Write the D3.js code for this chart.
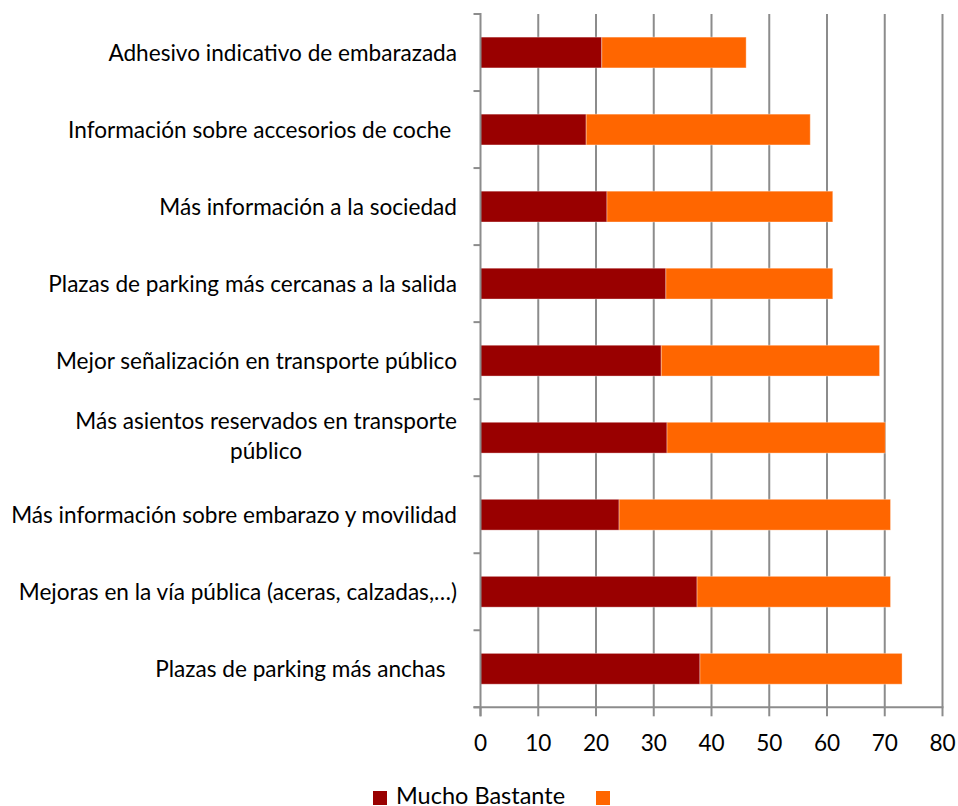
<!DOCTYPE html>
<html>
<head>
<meta charset="utf-8">
<script src="https://cdn.jsdelivr.net/npm/d3@7"></script>
<style>
  body { margin: 0; background: #fff; }
  text { font-family: Lato, "Open Sans", sans-serif; fill: #000; white-space: pre; }
</style>
</head>
<body>
<div id="chart"></div>
<script>
// Chart data
var categories = [
  "Adhesivo indicativo de embarazada",
  "Información sobre accesorios de coche ",
  "Más información a la sociedad",
  "Plazas de parking más cercanas a la salida",
  "Mejor señalización en transporte público",
  "Más asientos reservados en transporte|público",
  "Más información sobre embarazo y movilidad",
  "Mejoras en la vía pública (aceras, calzadas,…)",
  "Plazas de parking más anchas  "
];
var mucho = [21, 18.3, 21.9, 32.1, 31.3, 32.3, 24, 37.5, 38];
var bastante = [25, 38.8, 39.1, 28.9, 37.8, 37.8, 47, 33.5, 35];
var seriesNames = ["Mucho Bastante", ""];
var seriesColors = ["#990000", "#ff6600"];
var xTicks = [0, 10, 20, 30, 40, 50, 60, 70, 80];

var svg = d3.select("#chart")
  .append("svg")
  .attr("width", 958)
  .attr("height", 806);

var plotLeft = 480.5, plotRight = 942.5, plotTop = 14, plotBottom = 707.3;
var fontSize = 22.6;

var x = d3.scaleLinear().domain([0, 80]).range([plotLeft, plotRight]);
var y = d3.scaleBand().domain(categories).range([plotTop, plotBottom])
  .paddingInner(0.6).paddingOuter(0.3);

// Gridlines
svg.append("g")
  .selectAll("line")
  .data(xTicks.slice(1))
  .enter()
  .append("line")
  .attr("x1", function (d) { return x(d); })
  .attr("x2", function (d) { return x(d); })
  .attr("y1", plotTop)
  .attr("y2", plotBottom)
  .attr("stroke", "#8c8c8c")
  .attr("stroke-width", 2);

// Stacked bars
var rows = categories.map(function (c, i) {
  return { cat: c, s0: mucho[i], s1: bastante[i] };
});
var stacked = d3.stack().keys(["s0", "s1"])(rows);

svg.append("g")
  .selectAll("g")
  .data(stacked)
  .enter()
  .append("g")
  .attr("fill", function (d, i) { return seriesColors[i]; })
  .selectAll("rect")
  .data(function (d) { return d; })
  .enter()
  .append("rect")
  .attr("x", function (d) { return x(d[0]); })
  .attr("y", function (d) { return y(d.data.cat); })
  .attr("width", function (d) { return x(d[1]) - x(d[0]); })
  .attr("height", y.bandwidth())
  .attr("stroke", "rgba(255,255,255,0.35)")
  .attr("stroke-width", 1);

// Axes
var axisColor = "#8c8c8c";
svg.append("line")
  .attr("x1", plotLeft).attr("x2", plotLeft)
  .attr("y1", plotTop - 1).attr("y2", plotBottom + 9)
  .attr("stroke", axisColor).attr("stroke-width", 2);
svg.append("line")
  .attr("x1", plotLeft - 7).attr("x2", plotRight + 1)
  .attr("y1", plotBottom).attr("y2", plotBottom)
  .attr("stroke", axisColor).attr("stroke-width", 2);

// category boundary ticks on the left axis
var gap = (y.step() - y.bandwidth()) / 2;
var bounds = categories.map(function (c) { return y(c) - gap; });
bounds.push(plotBottom);
svg.append("g")
  .selectAll("line")
  .data(bounds)
  .enter()
  .append("line")
  .attr("x1", plotLeft - 7)
  .attr("x2", plotLeft)
  .attr("y1", function (d) { return d; })
  .attr("y2", function (d) { return d; })
  .attr("stroke", axisColor)
  .attr("stroke-width", 2);

// value ticks on the bottom axis
svg.append("g")
  .selectAll("line")
  .data(xTicks)
  .enter()
  .append("line")
  .attr("x1", function (d) { return x(d); })
  .attr("x2", function (d) { return x(d); })
  .attr("y1", plotBottom)
  .attr("y2", plotBottom + 9)
  .attr("stroke", axisColor)
  .attr("stroke-width", 2);

svg.append("g")
  .selectAll("text")
  .data(xTicks)
  .enter()
  .append("text")
  .attr("x", function (d) { return x(d); })
  .attr("y", 751)
  .attr("text-anchor", "middle")
  .attr("font-size", fontSize + "px")
  .text(function (d) { return d; });

// Category labels
var labelX = 457;
categories.forEach(function (c) {
  var lines = c.split("|");
  var cy = y(c) + y.bandwidth() / 2;
  if (lines.length === 1) {
    svg.append("text")
      .attr("x", labelX)
      .attr("y", cy + 8)
      .attr("text-anchor", "end")
      .attr("font-size", fontSize + "px")
      .text(c);
  } else {
    var t1 = svg.append("text")
      .attr("y", cy - 9)
      .attr("text-anchor", "middle")
      .attr("font-size", fontSize + "px")
      .text(lines[0]);
    var w = t1.node().getComputedTextLength();
    t1.attr("x", labelX - w / 2);
    svg.append("text")
      .attr("x", labelX - w / 2)
      .attr("y", cy + 21)
      .attr("text-anchor", "middle")
      .attr("font-size", fontSize + "px")
      .text(lines[1]);
  }
});

// Legend
var legend = svg.append("g");
legend.append("rect")
  .attr("x", 373).attr("y", 791)
  .attr("width", 14).attr("height", 14)
  .attr("fill", seriesColors[0]);
legend.append("text")
  .attr("x", 396).attr("y", 804)
  .attr("font-size", "23.5px")
  .text(seriesNames[0]);
legend.append("rect")
  .attr("x", 596).attr("y", 791)
  .attr("width", 14).attr("height", 14)
  .attr("fill", seriesColors[1]);
</script>
</body>
</html>
